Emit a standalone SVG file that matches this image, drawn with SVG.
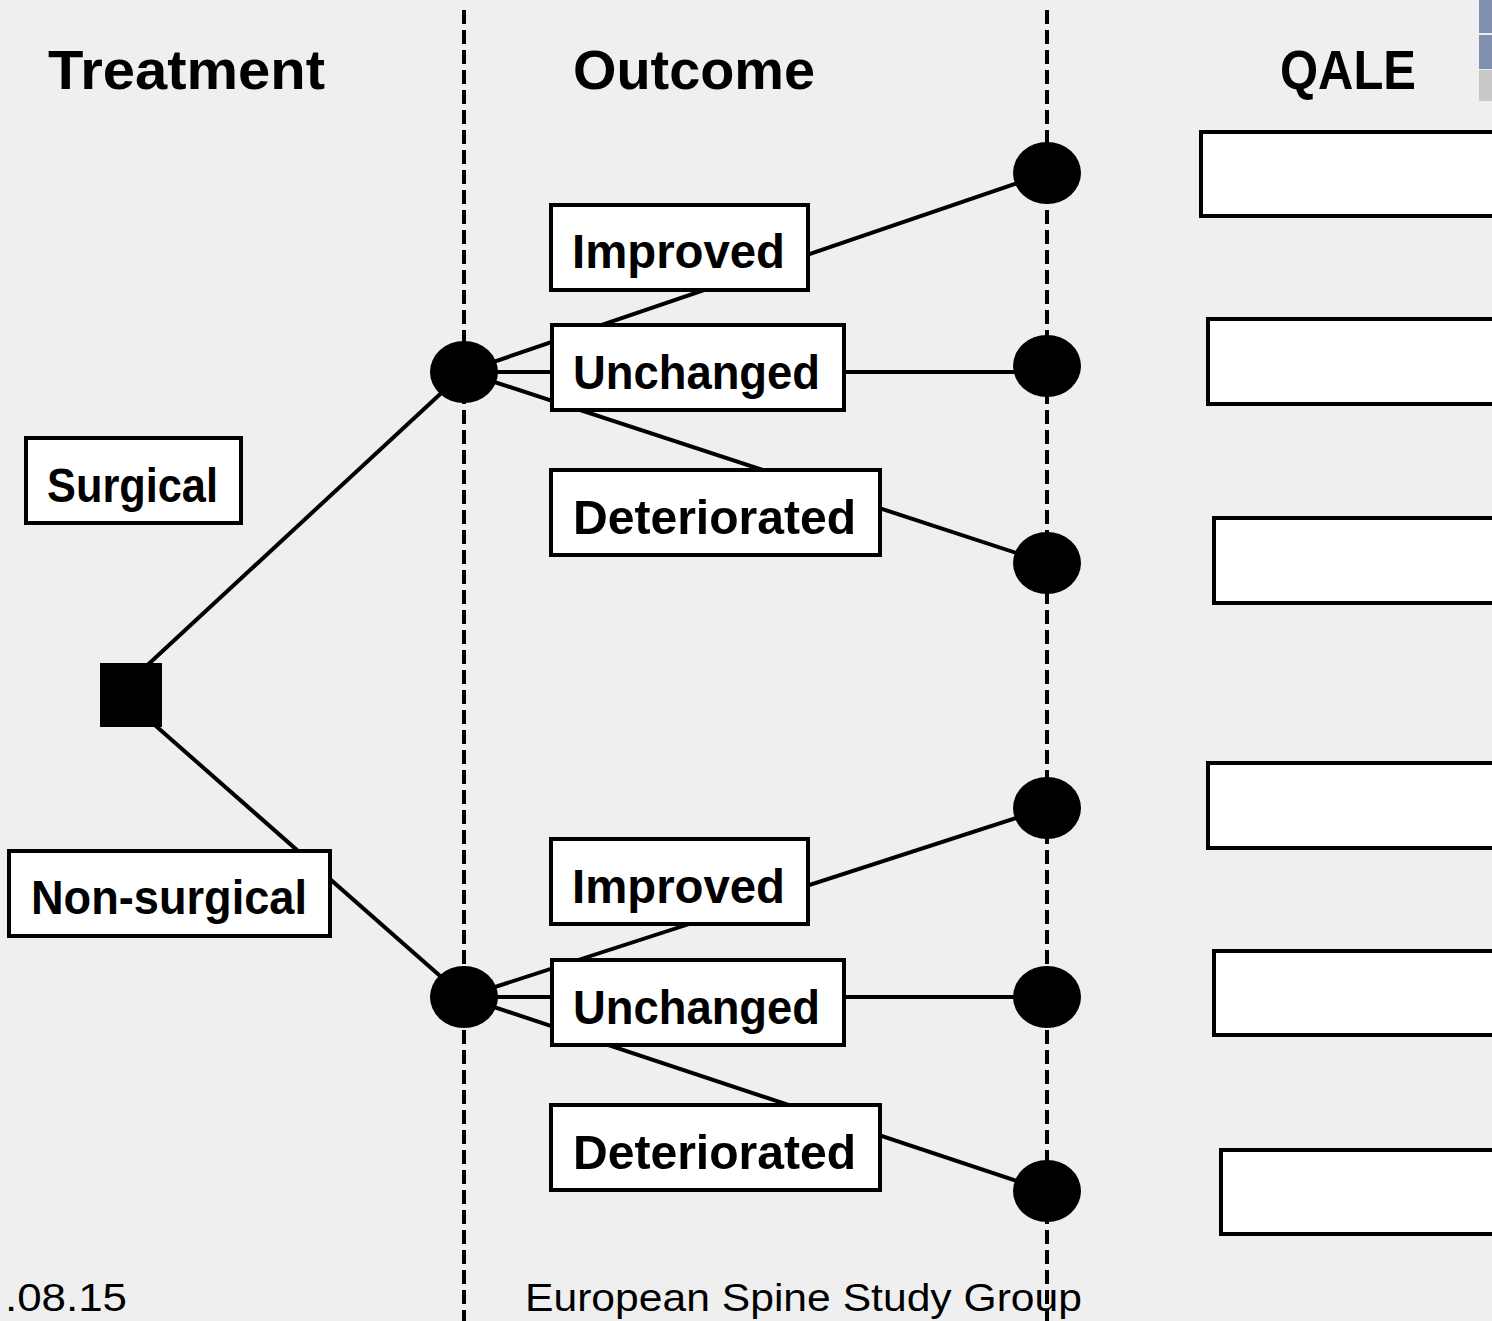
<svg xmlns="http://www.w3.org/2000/svg" width="1492" height="1321" viewBox="0 0 1492 1321">
<style>
.bg{fill:#efefef}
.guide{stroke:#000;stroke-width:4;stroke-dasharray:14 6;fill:none}
.conn{stroke:#000;stroke-width:4;fill:none}
.box{fill:#fff;stroke:#000;stroke-width:4}
.node{fill:#000}
.hdr{font-family:"Liberation Sans",Arial,sans-serif;font-weight:bold;font-size:56px;fill:#000}
.lbl{font-family:"Liberation Sans",Arial,sans-serif;font-weight:bold;font-size:48px;fill:#000}
.ftr{font-family:"Liberation Sans",Arial,sans-serif;font-size:39px;fill:#000}
</style>
<rect class="bg" x="0" y="0" width="1492" height="1321"/>
<rect x="1479" y="0" width="13" height="33" fill="#8090ae"/>
<rect x="1479" y="35" width="13" height="34" fill="#8090ae"/>
<rect x="1479" y="70" width="13" height="31" fill="#c8c8c8"/>
<g id="guides">
<line class="guide" x1="464" y1="10" x2="464" y2="1321"/>
<line class="guide" x1="1047" y1="10" x2="1047" y2="1321"/>
</g>
<g id="headers">
<text class="hdr" x="48" y="89" textLength="277" lengthAdjust="spacingAndGlyphs">Treatment</text>
<text class="hdr" x="573" y="89" textLength="242" lengthAdjust="spacingAndGlyphs">Outcome</text>
<text class="hdr" x="1280" y="89" textLength="136" lengthAdjust="spacingAndGlyphs">QALE</text>
</g>
<g id="connectors">
<line class="conn" x1="140" y1="672" x2="464" y2="372"/>
<line class="conn" x1="140" y1="712" x2="464" y2="997"/>
<line class="conn" x1="464" y1="372" x2="1047" y2="173"/>
<line class="conn" x1="464" y1="372" x2="1047" y2="372"/>
<line class="conn" x1="464" y1="372" x2="1047" y2="563"/>
<line class="conn" x1="464" y1="997" x2="1047" y2="808"/>
<line class="conn" x1="464" y1="997" x2="1047" y2="997"/>
<line class="conn" x1="464" y1="997" x2="1047" y2="1191"/>
</g>
<g id="surgical"><rect class="box" x="26" y="438" width="215" height="85"/><text class="lbl" x="47" y="502" textLength="171" lengthAdjust="spacingAndGlyphs">Surgical</text></g>
<g id="nonsurgical"><rect class="box" x="9" y="851" width="321" height="85"/><text class="lbl" x="31" y="914" textLength="276" lengthAdjust="spacingAndGlyphs">Non-surgical</text></g>
<g id="improved1"><rect class="box" x="551" y="205" width="257" height="85"/><text class="lbl" x="572" y="268" textLength="213" lengthAdjust="spacingAndGlyphs">Improved</text></g>
<g id="unchanged1"><rect class="box" x="552" y="325" width="292" height="85"/><text class="lbl" x="573" y="389" textLength="247" lengthAdjust="spacingAndGlyphs">Unchanged</text></g>
<g id="deteriorated1"><rect class="box" x="551" y="470" width="329" height="85"/><text class="lbl" x="573" y="534" textLength="283" lengthAdjust="spacingAndGlyphs">Deteriorated</text></g>
<g id="improved2"><rect class="box" x="551" y="839" width="257" height="85"/><text class="lbl" x="572" y="903" textLength="213" lengthAdjust="spacingAndGlyphs">Improved</text></g>
<g id="unchanged2"><rect class="box" x="552" y="960" width="292" height="85"/><text class="lbl" x="573" y="1024" textLength="247" lengthAdjust="spacingAndGlyphs">Unchanged</text></g>
<g id="deteriorated2"><rect class="box" x="551" y="1105" width="329" height="85"/><text class="lbl" x="573" y="1169" textLength="283" lengthAdjust="spacingAndGlyphs">Deteriorated</text></g>
<g id="decision"><rect class="node" x="100" y="663" width="62" height="64"/></g>
<g id="chance1"><ellipse class="node" cx="464" cy="372" rx="34" ry="31"/></g>
<g id="chance2"><ellipse class="node" cx="464" cy="997" rx="34" ry="31"/></g>
<g id="term1"><ellipse class="node" cx="1047" cy="173" rx="34" ry="31"/></g>
<g id="term2"><ellipse class="node" cx="1047" cy="366" rx="34" ry="31"/></g>
<g id="term3"><ellipse class="node" cx="1047" cy="563" rx="34" ry="31"/></g>
<g id="term4"><ellipse class="node" cx="1047" cy="808" rx="34" ry="31"/></g>
<g id="term5"><ellipse class="node" cx="1047" cy="997" rx="34" ry="31"/></g>
<g id="term6"><ellipse class="node" cx="1047" cy="1191" rx="34" ry="31"/></g>
<g id="qale1"><rect class="box" x="1201" y="132" width="300" height="84"/></g>
<g id="qale2"><rect class="box" x="1208" y="319" width="300" height="85"/></g>
<g id="qale3"><rect class="box" x="1214" y="518" width="300" height="85"/></g>
<g id="qale4"><rect class="box" x="1208" y="763" width="300" height="85"/></g>
<g id="qale5"><rect class="box" x="1214" y="951" width="300" height="84"/></g>
<g id="qale6"><rect class="box" x="1221" y="1150" width="300" height="84"/></g>
<g id="footer">
<text class="ftr" x="5" y="1311" textLength="122" lengthAdjust="spacingAndGlyphs">.08.15</text>
<text class="ftr" x="525" y="1311" textLength="557" lengthAdjust="spacingAndGlyphs">European Spine Study Group</text>
</g>
</svg>
